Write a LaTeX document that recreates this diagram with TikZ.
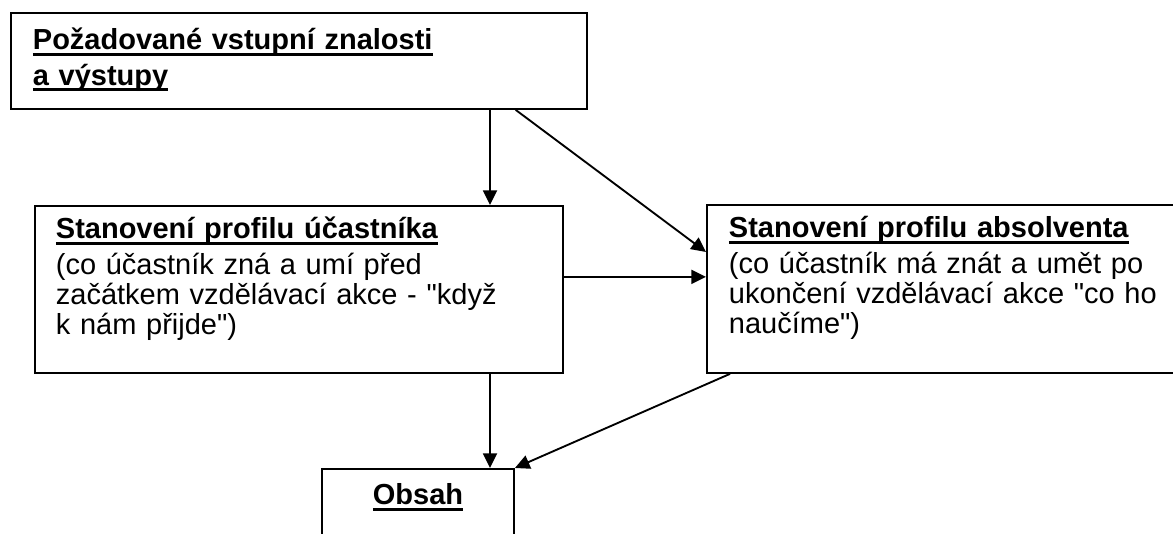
\documentclass[tikz,border=0pt]{standalone}
\usepackage{fontspec}
\setmainfont{Liberation Sans}[Ligatures=TeXOff]
\usepackage{tikz}
\usetikzlibrary{arrows.meta,positioning,calc}
\newcommand\hdr[1]{\leavevmode\setbox0\hbox{\bfseries #1}\rlap{\rule[-4.3pt]{\wd0}{2.3pt}}\box0}
\newcommand\boxfont{\fontsize{21.75pt}{22.5pt}\selectfont\baselineskip=22.5pt\lineskiplimit=-50pt\relax}
\tikzset{
  box/.style={
    draw,line width=1.4pt,anchor=north west,align=left,
    inner xsep=16.5pt,inner ysep=0pt,
    font=\boxfont,execute at begin node=\boxfont
  },
  arrow/.style={-{Triangle[length=11pt,width=10.5pt]},line width=1.4pt}
}
\begin{document}
\begin{tikzpicture}[x=0.75pt,y=-0.75pt]
\useasboundingbox (0,0) rectangle (1173,534);
\clip (0,0) rectangle (1173,534);
\node[box,text width=399pt,text height=27.75pt,text depth=44.25pt] (wants) at (10,12)
{\hdr{Požadované vstupní znalosti}\\[4pt]\hdr{a výstupy}};
\node[box,text width=364.5pt,inner xsep=15.75pt,text height=24.75pt,text depth=100.5pt] (entry) at (34,205)
{\hdr{Stanovení profilu účastníka}\\[4pt](co účastník zná a umí před\\začátkem vzdělávací akce - "když\\k nám přijde")};
\node[box,text width=342pt,text height=24.75pt,text depth=101.25pt] (grad) at (706,204)
{\hdr{Stanovení profilu absolventa}\\[4pt](co účastník má znát a umět po\\ukončení vzdělávací akce "co ho\\naučíme")};
\node[box,anchor=north,align=center,text width=111pt,text height=27pt,text depth=60pt] (content) at (418,468)
{\hdr{Obsah}};

\coordinate (col) at (490,0);
\draw[arrow] (wants.south -| col) -- (entry.north -| col);
\draw[arrow] ($(wants.south west)!0.875!(wants.south east)$) -- ([yshift=-36pt]grad.north west);
\draw[arrow] ([yshift=9.4pt]entry.east) -- ([yshift=9.4pt]entry.east -| grad.west);
\draw[arrow] (entry.south -| col) -- (content.north -| col);
\draw[arrow] ([xshift=18pt]grad.south west) -- (content.north east);
\end{tikzpicture}
\end{document}
